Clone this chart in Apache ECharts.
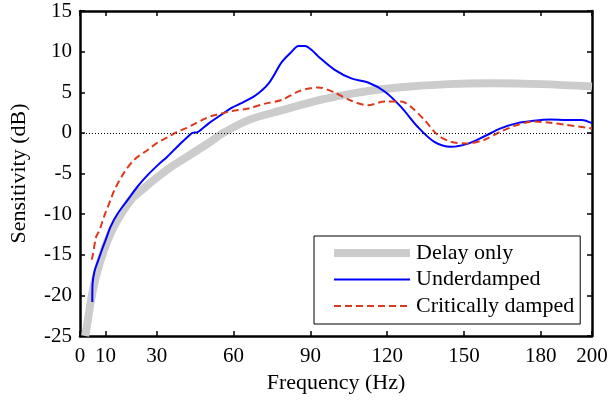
<!DOCTYPE html>
<html>
<head>
<meta charset="utf-8">
<script src="https://cdn.jsdelivr.net/npm/echarts@6/dist/echarts.min.js"></script>
<style>
  html, body { margin: 0; padding: 0; background: #fff; }
  #main { width: 612px; height: 403px; }
</style>
</head>
<body>
<div id="main"></div>
<script>
// values
const xTicks = [0, 10, 30, 60, 90, 120, 150, 180, 200];

const delayFreq = [2.0, 3.0, 4.3, 6.2, 9.4, 13.3, 19.8, 25, 30, 36, 43, 50, 56, 66, 79, 93, 103, 116, 129, 144, 160, 180, 200];
const delayDb = [-25, -23.2, -20.6, -17.7, -14.4, -11.5, -8.3, -6.8, -5.5, -4.1, -2.7, -1.3, 0, 1.6, 2.8, 4.0, 4.65, 5.3, 5.7, 6.0, 6.1, 6.0, 5.7];

const underFreq = [4.8, 4.9, 5.7, 7, 8.8, 10, 12, 14.8, 18.5, 22.5, 26.4, 30.3, 34.2, 38, 41.9, 43.9, 46, 50.4, 55.5, 59.4, 63.3, 68.5, 73.7, 78.8, 82.4, 85.3, 87.9, 90.5, 93.1, 99.5, 106, 112.5, 119, 125.4, 131.9, 138.4, 144.9, 151.3, 157.8, 164.3, 170.8, 177.2, 183.7, 190.2, 196, 200];
const underDb = [-20.8, -18.6, -17.0, -15.8, -14.2, -13.2, -11.5, -9.9, -8.3, -6.6, -5.2, -4.0, -2.9, -1.7, -0.55, 0, 0.1, 1.2, 2.3, 3.1, 3.7, 4.6, 6.1, 8.7, 9.9, 10.7, 10.7, 10.2, 9.4, 7.75, 6.7, 6.2, 5.1, 3.2, 0.75, -1.1, -1.7, -1.35, -0.45, 0.55, 1.2, 1.5, 1.65, 1.6, 1.6, 1.2];

const critFreq = [4.5, 4.9, 6.3, 7.6, 9.4, 12, 13.5, 17.4, 21.2, 26.4, 30.3, 34.2, 38, 41.3, 43.9, 47.8, 51.7, 55.5, 59.4, 65.9, 72.3, 78.8, 85.3, 90, 93.1, 99.5, 106, 112.5, 119, 125.4, 129.3, 134.5, 139.7, 144.9, 151.3, 157.8, 164.3, 170.8, 177.2, 183.7, 190.2, 200];
const critDb = [-15.6, -15.2, -12.8, -12.0, -10.3, -8.2, -7.0, -4.8, -3.3, -2.1, -1.2, -0.55, 0.15, 0.55, 0.97, 1.6, 2.1, 2.4, 2.7, 3.0, 3.6, 4.05, 5.1, 5.5, 5.6, 4.95, 3.95, 3.4, 3.85, 3.85, 3.2, 1.6, -0.25, -1.1, -1.3, -0.87, 0.15, 0.97, 1.4, 1.25, 0.97, 0.55];

const font = "Liberation Serif";
const grayCol = "#cccccc", blueCol = "#0000ff", redCol = "#dc3a1c";
const pairs = (xs, ys) => xs.map((x, i) => [x, ys[i]]);

const chart = echarts.init(document.getElementById("main"), null, { renderer: "canvas" });

const frameLine = { onZero: false, lineStyle: { color: "#000", width: 2.5 } };
const tickStyle = { color: "#000", width: 1.5 };

const option = {
  animation: false,
  backgroundColor: "#fff",
  grid: { left: 77, right: 20, top: 11, bottom: 67 },
  legend: {
    data: [
      { name: "Delay only", lineStyle: { color: grayCol, width: 8, type: "solid" } },
      { name: "Underdamped", lineStyle: { color: blueCol, width: 2, type: "solid" } },
      { name: "Critically damped", lineStyle: { color: redCol, width: 2, type: [7, 4] } }
    ],
    orient: "vertical",
    left: 314,
    top: 236,
    padding: [6, 6, 7, 16],
    itemWidth: 76,
    itemHeight: 14,
    itemGap: 4.5,
    itemStyle: { opacity: 0 },
    borderColor: "#000",
    borderWidth: 1,
    borderRadius: 0,
    backgroundColor: "#fff",
    textStyle: { fontFamily: font, fontSize: 22, color: "#000", padding: [0, 0, 0, 1] }
  },
  xAxis: [
    {
      type: "value", min: 0, max: 200, position: "bottom",
      name: "Frequency (Hz)", nameLocation: "middle", nameGap: 36,
      nameTextStyle: { fontFamily: font, fontSize: 22, color: "#000" },
      axisLine: frameLine,
      axisTick: { inside: true, length: 5, customValues: xTicks, lineStyle: tickStyle },
      axisLabel: { customValues: xTicks, margin: 10, fontFamily: font, fontSize: 21, color: "#000" },
      splitLine: { show: false }
    },
    {
      type: "value", min: 0, max: 200, position: "top",
      axisLine: frameLine,
      axisTick: { inside: true, length: 5, customValues: xTicks, lineStyle: tickStyle },
      axisLabel: { show: false },
      splitLine: { show: false }
    }
  ],
  yAxis: [
    {
      type: "value", min: -25, max: 15, interval: 5, position: "left",
      name: "Sensitivity (dB)", nameLocation: "middle", nameGap: 50,
      nameTextStyle: { fontFamily: font, fontSize: 22, color: "#000" },
      axisLine: frameLine,
      axisTick: { inside: true, length: 5, lineStyle: tickStyle },
      axisLabel: { margin: 8, fontFamily: font, fontSize: 21, color: "#000" },
      splitLine: { show: false }
    },
    {
      type: "value", min: -25, max: 15, interval: 5, position: "right",
      axisLine: frameLine,
      axisTick: { inside: true, length: 5, lineStyle: tickStyle },
      axisLabel: { show: false },
      splitLine: { show: false }
    }
  ],
  series: [
    {
      name: "Delay only", type: "line", symbol: "none", smooth: 0.3,
      data: pairs(delayFreq, delayDb),
      lineStyle: { color: grayCol, width: 8 },
      itemStyle: { color: grayCol },
      markLine: {
        silent: true, symbol: ["none", "none"], label: { show: false },
        lineStyle: { color: "#000", width: 1, type: [1, 2] },
        data: [{ yAxis: 0 }]
      }
    },
    {
      name: "Underdamped", type: "line", symbol: "none", smooth: 0.3,
      data: pairs(underFreq, underDb),
      lineStyle: { color: blueCol, width: 2 },
      itemStyle: { color: blueCol }
    },
    {
      name: "Critically damped", type: "line", symbol: "none", smooth: 0.3,
      data: pairs(critFreq, critDb),
      lineStyle: { color: redCol, width: 2, type: [7, 4] },
      itemStyle: { color: redCol }
    }
  ]
};

chart.setOption(option);
</script>
</body>
</html>
